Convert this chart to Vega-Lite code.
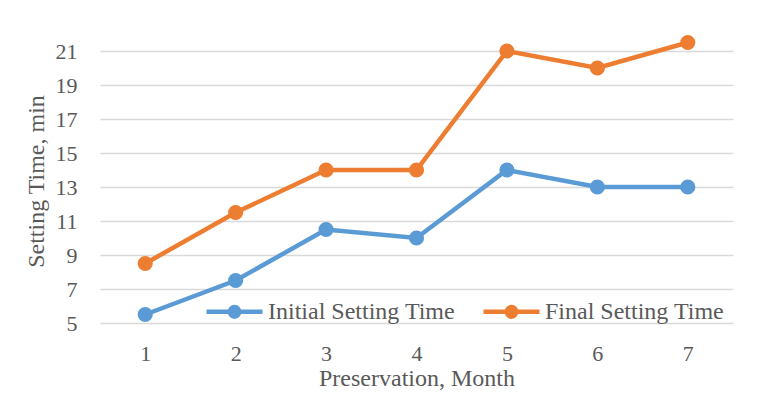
{
  "$schema": "https://vega.github.io/schema/vega-lite/v6.json",
  "width": 633,
  "height": 306,
  "autosize": {"type": "none"},
  "padding": {"left": 100, "top": 17, "right": 40, "bottom": 83},
  "background": "white",
  "config": {
    "view": {"stroke": null},
    "font": "Liberation Serif",
    "axis": {"labelColor": "#595959", "titleColor": "#595959", "labelFont": "Liberation Serif", "titleFont": "Liberation Serif", "titleFontWeight": "normal"},
    "legend": {"labelFont": "Liberation Serif", "labelColor": "#595959"}
  },
  "data": {
    "values": [
      {"month": 1, "series": "Initial Setting Time", "time": 5.5},
      {"month": 2, "series": "Initial Setting Time", "time": 7.5},
      {"month": 3, "series": "Initial Setting Time", "time": 10.5},
      {"month": 4, "series": "Initial Setting Time", "time": 10},
      {"month": 5, "series": "Initial Setting Time", "time": 14},
      {"month": 6, "series": "Initial Setting Time", "time": 13},
      {"month": 7, "series": "Initial Setting Time", "time": 13},
      {"month": 1, "series": "Final Setting Time", "time": 8.5},
      {"month": 2, "series": "Final Setting Time", "time": 11.5},
      {"month": 3, "series": "Final Setting Time", "time": 14},
      {"month": 4, "series": "Final Setting Time", "time": 14},
      {"month": 5, "series": "Final Setting Time", "time": 21},
      {"month": 6, "series": "Final Setting Time", "time": 20},
      {"month": 7, "series": "Final Setting Time", "time": 21.5}
    ]
  },
  "mark": {"type": "line", "strokeWidth": 4.5, "point": {"filled": true, "size": 230, "opacity": 1}},
  "encoding": {
    "x": {
      "field": "month",
      "type": "ordinal",
      "scale": {"type": "point", "padding": 0.5},
      "axis": {
        "title": "Preservation, Month",
        "labelAngle": 0,
        "labelFontSize": 22,
        "labelBaseline": "middle",
        "labelPadding": 30,
        "domain": false,
        "ticks": false,
        "grid": false,
        "titleFontSize": 24,
        "titleY": 55,
        "titleBaseline": "middle"
      }
    },
    "y": {
      "field": "time",
      "type": "quantitative",
      "scale": {"domain": [5, 23], "nice": false},
      "axis": {
        "title": "Setting Time, min",
        "values": [5, 7, 9, 11, 13, 15, 17, 19, 21],
        "labelFontSize": 22,
        "labelPadding": 23,
        "domain": false,
        "ticks": false,
        "grid": true,
        "gridColor": "#d9d9d9",
        "gridWidth": 1.3,
        "titleFontSize": 24,
        "titleX": -64,
        "titleY": 164,
        "titleAngle": -90,
        "titleAlign": "center",
        "titleBaseline": "middle"
      }
    },
    "color": {
      "field": "series",
      "type": "nominal",
      "sort": ["Initial Setting Time", "Final Setting Time"],
      "scale": {"domain": ["Initial Setting Time", "Final Setting Time"], "range": ["#5B9BD5", "#ED7D31"]},
      "legend": {
        "title": null,
        "orient": "none",
        "direction": "horizontal",
        "legendX": 104,
        "legendY": 264,
        "labelFontSize": 24,
        "labelLimit": 400,
        "labelOffset": 3,
        "columnPadding": 18,
        "symbolType": "M-1,0L1,0M-0.17,0A0.17,0.17,0,1,0,0.17,0A0.17,0.17,0,1,0,-0.17,0Z",
        "symbolSize": 3136,
        "symbolStrokeWidth": 4.5,
        "symbolOpacity": 1,
        "encode": {
          "symbols": {
            "update": {
              "fill": {"scale": "color", "field": "value"},
              "stroke": {"scale": "color", "field": "value"}
            }
          }
        }
      }
    }
  }
}
